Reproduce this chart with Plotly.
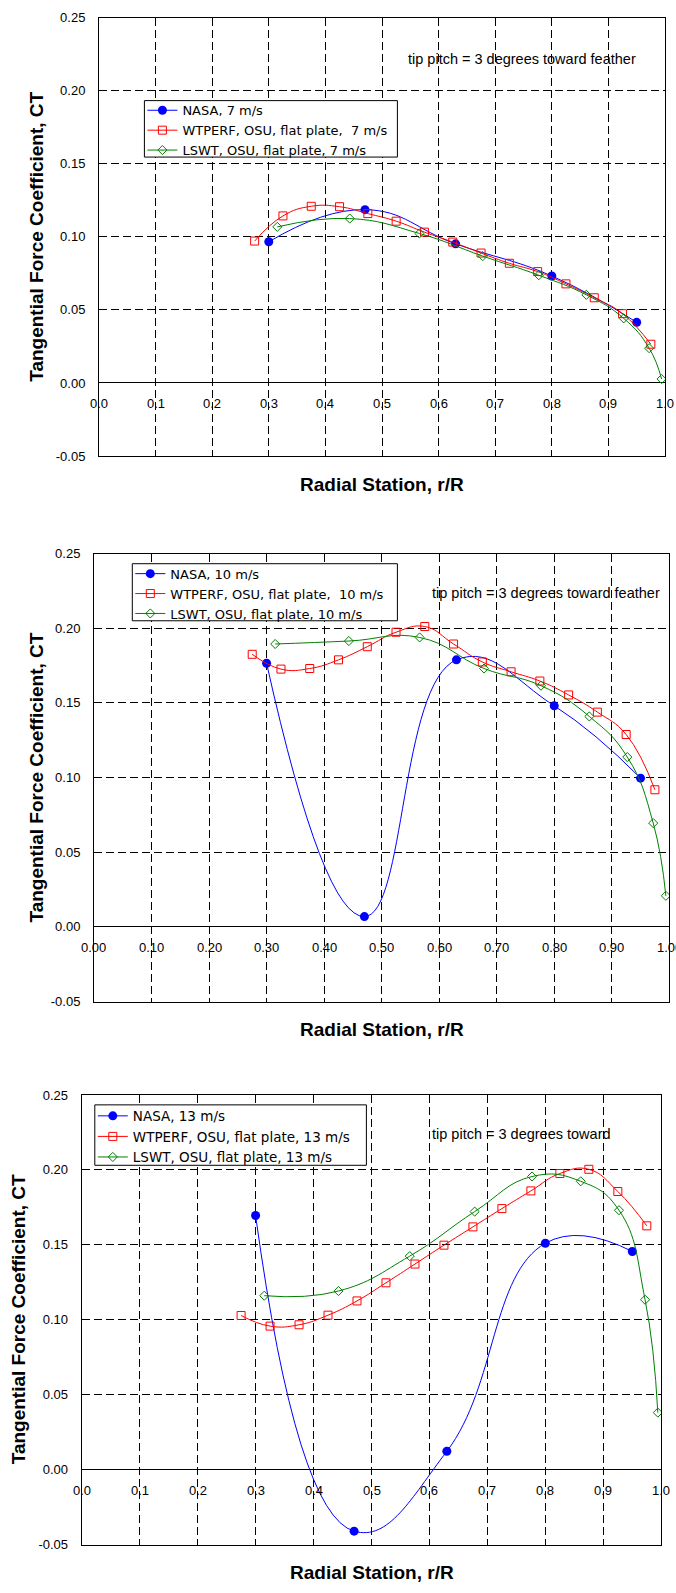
import plotly.graph_objects as go

# ---------------- data ----------------
x_nasa = [0.30, 0.47, 0.63, 0.80, 0.95]
x_wtperf = [0.275, 0.325, 0.375, 0.425, 0.475, 0.525, 0.575, 0.625,
            0.675, 0.725, 0.775, 0.825, 0.875, 0.925, 0.975]
x_lswt = [0.315, 0.443, 0.566, 0.678, 0.777, 0.861, 0.927, 0.972, 0.994]

ct_nasa_7 = [0.0966, 0.1186, 0.0952, 0.0732, 0.0415]
ct_wtperf_7 = [0.0971, 0.1143, 0.1209, 0.1206, 0.1159, 0.1107, 0.1032, 0.0964,
               0.0889, 0.0819, 0.0762, 0.0678, 0.0583, 0.0474, 0.0265]
ct_lswt_7 = [0.1068, 0.1125, 0.1023, 0.0868, 0.0737, 0.0603, 0.0442, 0.0238, 0.0027]

ct_nasa_10 = [0.1765, 0.0069, 0.1788, 0.1480, 0.0996]
ct_wtperf_10 = [0.1825, 0.1726, 0.1730, 0.1788, 0.1876, 0.1973, 0.2011, 0.1894,
                0.1774, 0.1708, 0.1646, 0.1553, 0.1438, 0.1288, 0.0918]
ct_lswt_10 = [0.1894, 0.1914, 0.1938, 0.1730, 0.1615, 0.1409, 0.1137, 0.0695, 0.0208]

ct_nasa_13 = [0.1696, -0.0410, 0.0123, 0.1511, 0.1456]
ct_wtperf_13 = [0.1029, 0.0958, 0.0967, 0.1031, 0.1126, 0.1247, 0.1372, 0.1498,
                0.1620, 0.1742, 0.1860, 0.1976, 0.2004, 0.1856, 0.1627]
ct_lswt_13 = [0.1161, 0.1192, 0.1425, 0.1722, 0.1956, 0.1924, 0.1731, 0.1134, 0.0381]

names_7 = ["NASA, 7 m/s", "WTPERF, OSU, flat plate,\u00a0 7 m/s", "LSWT, OSU, flat plate, 7 m/s"]
names_10 = ["NASA, 10 m/s", "WTPERF, OSU, flat plate,\u00a0 10 m/s", "LSWT, OSU, flat plate, 10 m/s"]
names_13 = ["NASA, 13 m/s", "WTPERF, OSU, flat plate, 13 m/s", "LSWT, OSU, flat plate, 13 m/s"]

y_tickvals = [-0.05, 0.0, 0.05, 0.10, 0.15, 0.20, 0.25]
y_ticktext = ["-0.05", "0.00", "0.05", "0.10", "0.15", "0.20", "0.25"]
x_tickvals = [0.0, 0.1, 0.2, 0.3, 0.4, 0.5, 0.6, 0.7, 0.8, 0.9, 1.0]
x_ticktext_1 = ["0.0", "0.1", "0.2", "0.3", "0.4", "0.5", "0.6", "0.7", "0.8", "0.9", "1.0"]
x_ticktext_2 = ["0.00", "0.10", "0.20", "0.30", "0.40", "0.50", "0.60", "0.70", "0.80", "0.90", "1.00"]
x_ticktext_3 = x_ticktext_1

note_1 = "tip pitch = 3 degrees toward feather"
note_2 = "tip pitch = 3 degrees toward feather"
note_3 = "tip pitch = 3 degrees toward"

x_title = "Radial Station, r/R"
y_title = "Tangential Force Coefficient, CT"

# ---------------- layout geometry ----------------
W, H = 676, 1593
FONT = "Liberation Sans, Arial, sans-serif"
LEGFONT = "DejaVu Sans, Liberation Sans, Arial, sans-serif"
SMOOTH = 1.3

panels = [
    dict(l=99, r=665, t=10.7, b=453.3, box=(144.4, 94.5, 397.4, 151.5), legfont=13,
         note=(0.543, 0.906), ytx=37,
         data=(ct_nasa_7, ct_wtperf_7, ct_lswt_7), names=names_7, xt=x_ticktext_1, note_txt=note_1),
    dict(l=94, r=669.3, t=551.7, b=1004, box=(132.3, 562.0, 397.4, 619.6), legfont=13,
         note=(0.584, 0.912), ytx=37,
         data=(ct_nasa_10, ct_wtperf_10, ct_lswt_10), names=names_10, xt=x_ticktext_2, note_txt=note_2),
    dict(l=81.7, r=661.3, t=1098.3, b=1552.3, box=(94.8, 1108.3, 366.4, 1169.3), legfont=13.5,
         note=(0.601, 0.914), ytx=18.5,
         data=(ct_nasa_13, ct_wtperf_13, ct_lswt_13), names=names_13, xt=x_ticktext_3, note_txt=note_3),
]

fig = go.Figure()
annotations = []
shapes = []
layout = dict(
    width=W, height=H, margin=dict(l=0, r=0, t=0, b=0),
    paper_bgcolor="white", plot_bgcolor="white",
    font=dict(family=FONT, color="black", size=13),
    showlegend=True,
)

for i, p in enumerate(panels, start=1):
    sfx = "" if i == 1 else str(i)
    xa, ya = "x" + sfx, "y" + sfx
    leg = "legend" + sfx
    nasa, wtp, lswt = p["data"]
    n1, n2, n3 = p["names"]

    fig.add_trace(go.Scatter(
        x=x_nasa, y=nasa, name=n1, mode="lines+markers", xaxis=xa, yaxis=ya, legend=leg,
        line=dict(color="#0000FF", width=1, shape="spline", smoothing=SMOOTH),
        marker=dict(symbol="circle", size=9, color="#0000FF")))
    fig.add_trace(go.Scatter(
        x=x_wtperf, y=wtp, name=n2, mode="lines+markers", xaxis=xa, yaxis=ya, legend=leg,
        line=dict(color="#FF0000", width=1, shape="spline", smoothing=SMOOTH),
        marker=dict(symbol="square-open", size=8, color="#FF0000", line=dict(width=1))))
    fig.add_trace(go.Scatter(
        x=x_lswt, y=lswt, name=n3, mode="lines+markers", xaxis=xa, yaxis=ya, legend=leg,
        line=dict(color="#008000", width=1, shape="spline", smoothing=SMOOTH),
        marker=dict(symbol="diamond-open", size=7, color="#008000", line=dict(width=1))))

    xd = [p["l"] / W, p["r"] / W]
    yd = [1 - p["b"] / H, 1 - p["t"] / H]
    layout["xaxis" + sfx] = dict(
        domain=xd, anchor=ya, range=[0, 1], tickvals=x_tickvals, showticklabels=False,
        ticks="", showgrid=True, gridcolor="black", griddash="8px,4px", gridwidth=1,
        zeroline=False, showline=True, linecolor="black", linewidth=1, mirror=True,
        fixedrange=True)
    layout["yaxis" + sfx] = dict(
        domain=yd, anchor=xa, range=[-0.05, 0.25], tickvals=y_tickvals, ticktext=y_ticktext,
        ticks="", ticklabelstandoff=10, tickfont=dict(size=13, family=FONT),
        showgrid=True, gridcolor="black", griddash="8px,4px", gridwidth=1,
        zeroline=True, zerolinecolor="black", zerolinewidth=1,
        showline=True, linecolor="black", linewidth=1, mirror=True, fixedrange=True)

    bl, bt, br, bb = p["box"]
    shapes.append(dict(
        type="rect", xref="paper", yref="paper", layer="above",
        x0=bl / W, x1=br / W, y0=1 - bb / H, y1=1 - bt / H,
        line=dict(color="black", width=1), fillcolor="white"))
    f = p["legfont"]
    sp = max(f * 1.3, 16) + 3
    centre = (bt + bb) / 2
    leg_top = centre - sp - (sp / 2 + 4)
    layout[leg] = dict(
        x=(bl - 2) / W, y=1 - leg_top / H, xanchor="left", yanchor="top",
        xref="paper", yref="paper",
        bgcolor="rgba(0,0,0,0)", borderwidth=0,
        font=dict(size=f, family=LEGFONT, color="black"),
        tracegroupgap=0, itemwidth=30)

    for xv, txt in zip(x_tickvals, p["xt"]):
        annotations.append(dict(
            x=xv, y=0, xref=xa, yref=ya, text=txt, showarrow=False,
            yshift=-21, xanchor="center", yanchor="middle",
            font=dict(size=13, family=FONT)))

    annotations.append(dict(
        x=0.5, y=0, xref=xa + " domain", yref=ya + " domain", text="<b>" + x_title + "</b>",
        showarrow=False, yshift=-28, xanchor="center", yanchor="middle",
        font=dict(size=19, family=FONT)))
    annotations.append(dict(
        x=0, y=0.5, xref=xa + " domain", yref=ya + " domain", text="<b>" + y_title + "</b>",
        showarrow=False, xshift=p["ytx"] - p["l"], textangle=-90,
        xanchor="center", yanchor="middle", font=dict(size=19, family=FONT)))
    annotations.append(dict(
        x=p["note"][0], y=p["note"][1], xref=xa + " domain", yref=ya + " domain",
        text=p["note_txt"], showarrow=False, xanchor="left", yanchor="middle",
        font=dict(size=14.5, family=FONT)))

layout["annotations"] = annotations
layout["shapes"] = shapes
fig.update_layout(**layout)
fig.write_html("out.html")
